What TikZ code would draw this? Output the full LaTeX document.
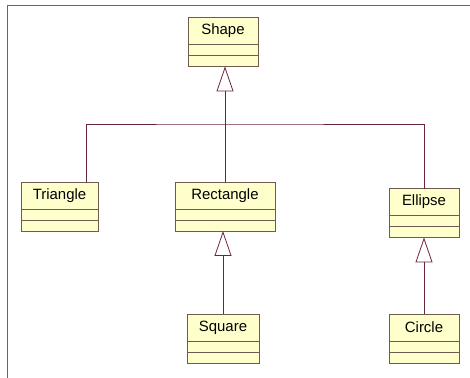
\documentclass[tikz,border=0pt]{standalone}
\usepackage{fontspec}
\setmainfont{Liberation Sans}
\usetikzlibrary{
    arrows.meta,
    positioning
}
\definecolor{uml fill}{HTML}{FFFFCC}
\definecolor{uml border}{HTML}{6E5A4E}
\definecolor{uml line}{HTML}{6A2442}
\tikzset{
    % Colors
    frame color/.style={gray!80!black},
    line color/.style={uml line},
    %
    % Class boxes
    class box/.style={rectangle,draw=uml border,fill=uml fill,line width=0.5pt,
        minimum width=#1,minimum height=0.54cm,inner sep=0pt,outer sep=0pt,
        font=\fontsize{8.5}{10}\selectfont},
    compartment/.style={rectangle,draw=uml border,fill=uml fill,line width=0.5pt,
        minimum width=#1,minimum height=0.22cm,inner sep=0pt,outer sep=0pt},
    %
    % Arrows
    open tip/.tip={Triangle[open,length=0.5cm,width=0.34cm]},
    connector/.style={line color,line width=0.45pt},
    inherit/.style={connector,-{open tip},fill=white},
    frame line/.style={frame color,line width=1.1pt},
}

\begin{document}
\begin{tikzpicture}[x=0.02cm,y=-0.02cm]
    \useasboundingbox (0,0) rectangle (470,378);
    \draw[frame line] (7.5,378) -- (7.5,5.5) -- (470,5.5);

    % classes
    \node[class box=1.4cm] (Shape) at (223,31) {Shape};
    \node[compartment=1.4cm,below=0pt of Shape] (Shape attr) {};
    \node[compartment=1.4cm,below=0pt of Shape attr] (Shape ops) {};

    \node[class box=1.54cm] (Triangle) at (59.5,195.5) {Triangle};
    \node[compartment=1.54cm,below=0pt of Triangle] (Triangle attr) {};
    \node[compartment=1.54cm,below=0pt of Triangle attr] (Triangle ops) {};

    \node[class box=2cm] (Rectangle) at (225,195.5) {Rectangle};
    \node[compartment=2cm,below=0pt of Rectangle] (Rectangle attr) {};
    \node[compartment=2cm,below=0pt of Rectangle attr] (Rectangle ops) {};

    \node[class box=1.4cm] (Ellipse) at (424,202) {Ellipse};
    \node[compartment=1.4cm,below=0pt of Ellipse] (Ellipse attr) {};
    \node[compartment=1.4cm,below=0pt of Ellipse attr] (Ellipse ops) {};

    \node[class box=1.44cm] (Square) at (223,327.5) {Square};
    \node[compartment=1.44cm,below=0pt of Square] (Square attr) {};
    \node[compartment=1.44cm,below=0pt of Square attr] (Square ops) {};

    \node[class box=1.4cm] (Circle) at (424,327.5) {Circle};
    \node[compartment=1.4cm,below=0pt of Circle] (Circle attr) {};
    \node[compartment=1.4cm,below=0pt of Circle attr] (Circle ops) {};

    % generalisations
    \coordinate (fork) at (225,124);
    \draw[connector] ([xshift=0.53cm]Triangle.north) |- (fork) -| (Ellipse.north);
    \draw[connector] (Rectangle.north) -- (fork);
    \draw[inherit] (fork) -- (fork |- Shape ops.south);
    \draw[inherit] (Square.north) -- (Square.north |- Rectangle ops.south);
    \draw[inherit] (Circle.north) -- (Ellipse ops.south);
\end{tikzpicture}
\end{document}
